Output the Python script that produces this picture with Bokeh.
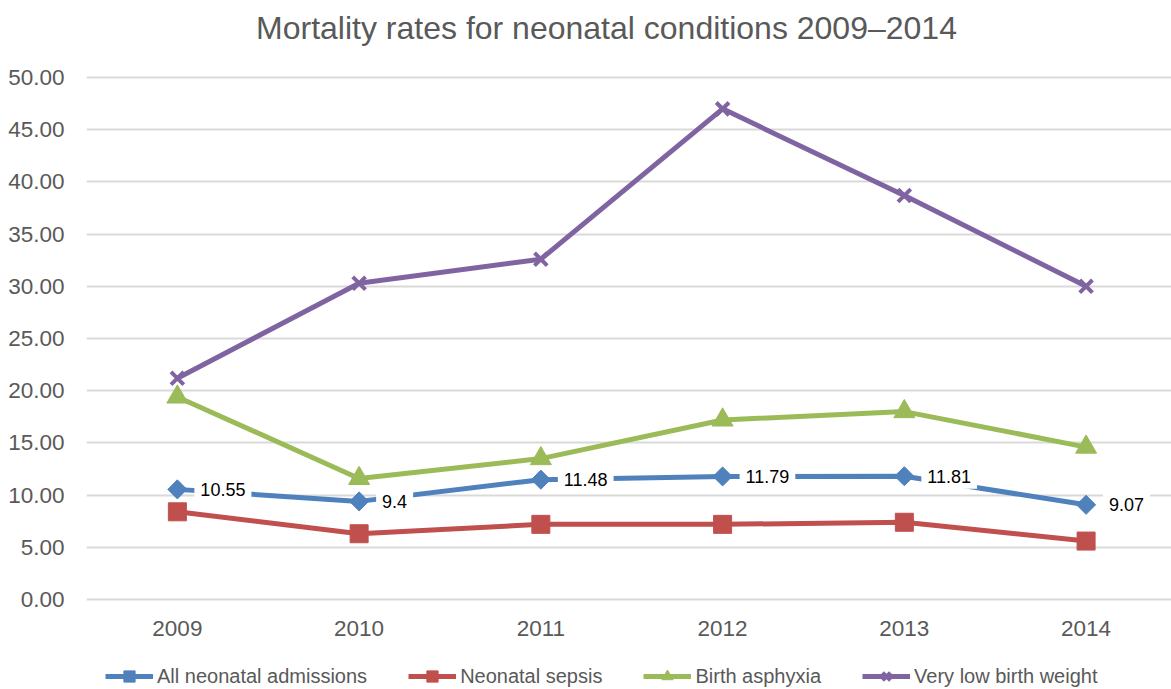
import numpy as np
from bokeh.plotting import figure
from bokeh.models import (ColumnDataSource, Range1d, FixedTicker, Label,
                          Legend, LegendItem)
from bokeh.embed import file_html
from bokeh.resources import INLINE

# Mortality rates (%) by year
years = [2009, 2010, 2011, 2012, 2013, 2014]
year_labels = ["2009", "2010", "2011", "2012", "2013", "2014"]
all_admissions = [10.55, 9.4, 11.48, 11.79, 11.81, 9.07]
neonatal_sepsis = [8.4, 6.3, 7.2, 7.2, 7.4, 5.6]
birth_asphyxia = [19.4, 11.6, 13.5, 17.2, 18.0, 14.6]
very_low_birth_weight = [21.2, 30.3, 32.6, 47.0, 38.7, 30.0]
y_ticks = [0, 5, 10, 15, 20, 25, 30, 35, 40, 45, 50]
chart_title = "Mortality rates for neonatal conditions 2009\u20132014"

FONT = "Liberation Sans"
GREY = "#595959"

# the frame spans the full height: the title sits above the 50 line and the
# legend below the zero line; the x axis is pinned at y = 0
p = figure(width=1171, height=689, output_backend="svg", toolbar_location=None,
           x_range=Range1d(2008.5, 2014.47), y_range=Range1d(-8.62, 57.38),
           min_border_left=86, min_border_right=0, min_border_top=0,
           min_border_bottom=0, outline_line_color=None,
           background_fill_color="white", border_fill_color="white")

p.add_layout(Label(x=520, y=662, x_units="screen", y_units="screen",
                   text=chart_title, text_align="center",
                   text_baseline="middle", text_font=FONT,
                   text_font_size="32px", text_color=GREY))

# axes
p.xaxis.ticker = FixedTicker(ticks=years)
p.xaxis.major_label_overrides = {y: s for y, s in zip(years, year_labels)}
p.xaxis.fixed_location = 0
p.yaxis.ticker = FixedTicker(ticks=y_ticks)
p.yaxis.major_label_overrides = {t: f"{t:.2f}" for t in y_ticks}
for ax in (p.xaxis, p.yaxis):
    ax.axis_line_color = None
    ax.major_tick_line_color = None
    ax.minor_tick_line_color = None
    ax.major_label_text_font = FONT
    ax.major_label_text_font_size = "22.5px"
    ax.major_label_text_color = GREY
p.yaxis.major_label_standoff = 16
p.xaxis.major_label_standoff = 15

p.xgrid.grid_line_color = None
p.ygrid.ticker = FixedTicker(ticks=y_ticks)
p.ygrid.grid_line_color = "#D9D9D9"
p.ygrid.grid_line_width = 2

series = [
    ("All neonatal admissions", all_admissions, "#4F81BD",
     dict(marker="square", size=13.5, angle=np.pi / 4)),
    ("Neonatal sepsis", neonatal_sepsis, "#C0504D",
     dict(marker="square", size=18)),
    ("Birth asphyxia", birth_asphyxia, "#9BBB59",
     dict(marker="triangle", size=21)),
    ("Very low birth weight", very_low_birth_weight, "#8064A2",
     dict(marker="x", size=18, line_width=4)),
]

items = []
for name, vals, color, mk in series:
    src = ColumnDataSource(dict(x=years, y=vals))
    lr = p.line("x", "y", source=src, line_color=color, line_width=5)
    mk = dict(mk)
    lw = mk.pop("line_width", 1)
    sr = p.scatter("x", "y", source=src, fill_color=color, line_color=color,
                   line_width=lw, **mk)
    items.append(LegendItem(label=name, renderers=[lr, sr]))

# value labels for all admissions, on white boxes that break the line
for xv, yv in zip(years, all_admissions):
    p.add_layout(Label(x=xv, y=yv, text=str(yv), x_offset=17,
                       text_baseline="middle", text_align="left",
                       text_font=FONT, text_font_size="18px",
                       text_color="black", background_fill_color="white",
                       padding=6))

legend = Legend(items=items, orientation="horizontal", location=(19, -1),
                label_text_font=FONT, label_text_font_size="20px",
                label_text_color=GREY, glyph_width=48, glyph_height=28,
                label_standoff=4, spacing=41, padding=0, margin=0,
                border_line_color=None, background_fill_alpha=0)
p.add_layout(legend, "center")

open("out.html", "w").write(file_html(p, INLINE))
